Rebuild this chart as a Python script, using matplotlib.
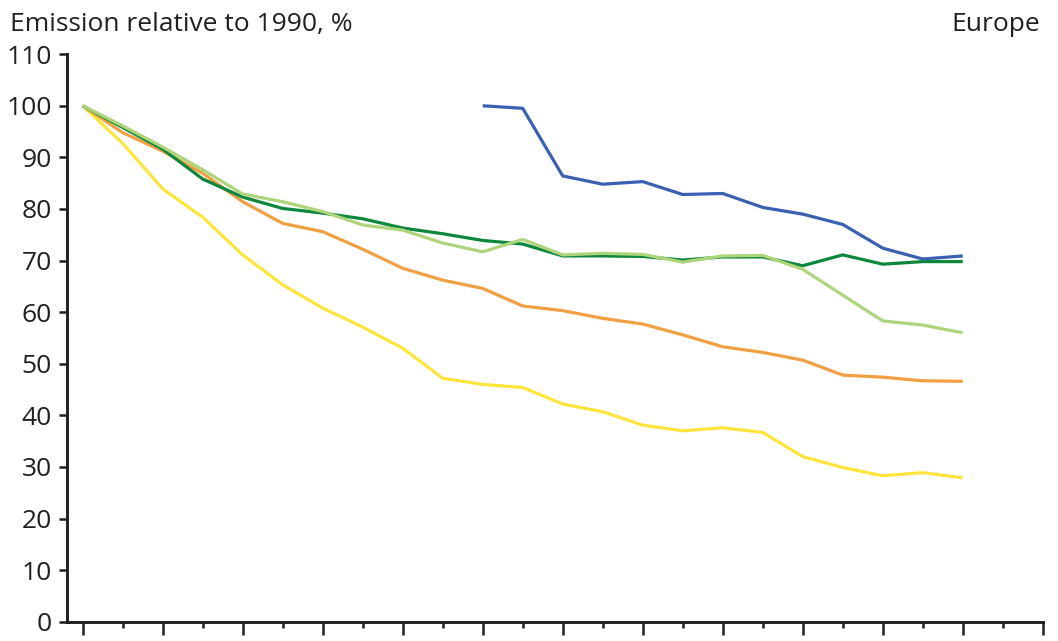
import matplotlib
matplotlib.use("Agg")
import matplotlib.pyplot as plt
import numpy as np

# Years covered by the series
years = list(range(1990, 2013))
years_blue = list(range(2000, 2013))

# Emission indices, 1990 = 100 (blue series indexed to 2000)
blue = [100.0, 99.5, 86.4, 84.8, 85.3, 82.8, 83.0, 80.3, 79.0, 77.0, 72.4, 70.3, 70.9]
dark_green = [100.0, 95.8, 91.6, 85.8, 82.3, 80.1, 79.2, 78.1, 76.3, 75.2, 73.9, 73.2,
              70.9, 70.9, 70.8, 70.1, 70.7, 70.7, 69.0, 71.1, 69.3, 69.8, 69.8]
light_green = [100.0, 96.1, 92.0, 87.6, 82.9, 81.4, 79.5, 76.9, 75.9, 73.4, 71.7, 74.1,
               71.1, 71.4, 71.2, 69.7, 70.9, 71.0, 68.3, 63.3, 58.3, 57.5, 56.0]
orange = [100.0, 94.8, 91.2, 86.9, 81.4, 77.2, 75.6, 72.2, 68.5, 66.2, 64.6, 61.2,
          60.3, 58.8, 57.7, 55.6, 53.3, 52.2, 50.7, 47.8, 47.4, 46.7, 46.6]
yellow = [100.0, 92.7, 83.9, 78.4, 71.1, 65.3, 60.8, 57.1, 53.0, 47.2, 46.0, 45.4,
          42.2, 40.7, 38.1, 37.0, 37.6, 36.7, 32.0, 29.9, 28.3, 28.9, 27.9]

y_ticks = list(range(0, 111, 10))
x_first, x_last = 1990, 2014

plt.rcParams['font.family'] = ['Open Sans', 'DejaVu Sans']
text_color = '#231f20'

fig = plt.figure(figsize=(10.58, 6.41), dpi=100)
ax = fig.add_axes([0.0636, 0.030, 0.922, 0.8855])

lw = 2.3
ax.plot(years, yellow, color='#fde53c', lw=lw, solid_capstyle='butt')
ax.plot(years, orange, color='#f0a042', lw=lw, solid_capstyle='butt')
ax.plot(years, dark_green, color='#0d873c', lw=lw, solid_capstyle='butt')
ax.plot(years, light_green, color='#aed47c', lw=lw, solid_capstyle='butt')
ax.plot(years_blue, blue, color='#3a60b2', lw=lw, solid_capstyle='butt')

ax.set_xlim(x_first - 0.385, x_last)
ax.set_ylim(0, 110)

for side in ('top', 'right'):
    ax.spines[side].set_visible(False)
for side in ('left', 'bottom'):
    ax.spines[side].set_linewidth(2.1)
    ax.spines[side].set_color(text_color)

ax.set_yticks(y_ticks)
ax.tick_params(axis='y', direction='out', length=6, width=1.8, color=text_color,
               labelsize=19, labelcolor=text_color, pad=5)
ax.set_xticks(list(range(x_first, x_last + 1, 2)))
ax.set_xticks(list(range(x_first + 1, x_last + 1, 2)), minor=True)
ax.tick_params(axis='x', which='major', direction='out', length=9, width=1.8,
               color=text_color, labelbottom=False)
ax.tick_params(axis='x', which='minor', direction='out', length=4.5, width=1.8,
               color=text_color, labelbottom=False)

fig.text(10 / 1058, 1 - 31 / 641, 'Emission relative to 1990, %', fontsize=19,
         color=text_color, ha='left', va='baseline')
fig.text(1040 / 1058, 1 - 31 / 641, 'Europe', fontsize=19,
         color=text_color, ha='right', va='baseline')

fig.savefig('out.png', dpi=100, facecolor='white')
